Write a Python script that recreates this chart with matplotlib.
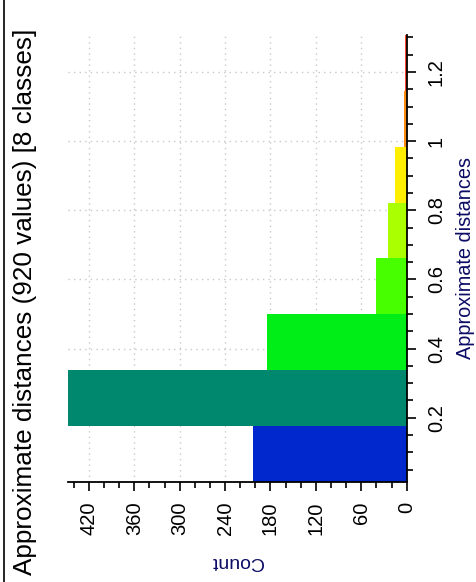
import matplotlib
matplotlib.use("Agg")
import matplotlib.pyplot as plt
from matplotlib.ticker import MultipleLocator
from matplotlib.lines import Line2D

plt.rcParams['font.family'] = ['Liberation Sans', 'DejaVu Sans']

# Data
bin_edges = [0.015, 0.1765, 0.338, 0.4995, 0.661, 0.8225, 0.984, 1.1455, 1.307]
counts = [203, 447, 184, 41, 25, 15, 3, 2]
bar_colors = ['#0028cc', '#00886f', '#00ee18', '#48ff00', '#aaff00', '#ffee00', '#ff8c10', '#ff4a30']
title = "Approximate distances (920 values) [8 classes]"
count_ticks = [0, 60, 120, 180, 240, 300, 360, 420]
dist_ticks = [0.2, 0.4, 0.6, 0.8, 1.0, 1.2]
dist_tick_labels = ['0.2', '0.4', '0.6', '0.8', '1', '1.2']

W, H = 476, 582
fig = plt.figure(figsize=(W / 100, H / 100), dpi=100)
ax = fig.add_axes([68 / W, 1 - 481.7 / H, 338.7 / W, (481.7 - 35) / H])

lefts = bin_edges[:-1]
heights = [b - a for a, b in zip(bin_edges[:-1], bin_edges[1:])]
ax.barh(lefts, counts, height=heights, align='edge', color=bar_colors,
        linewidth=0, zorder=2)

ax.set_xlim(447.5, 0)
ax.set_ylim(bin_edges[0], bin_edges[-1])

ax.xaxis.set_minor_locator(MultipleLocator(20))
ax.set_xticks(count_ticks)
ax.set_xticklabels([str(c) for c in count_ticks], rotation=90)
ax.yaxis.tick_right()
ax.set_yticks(dist_ticks)
ax.set_yticklabels(dist_tick_labels, rotation=90, va='center')
ax.yaxis.set_minor_locator(MultipleLocator(0.05))

ax.grid(True, which='major', linestyle=(0, (1, 3)), color='#c8c8c8',
        linewidth=1.0, zorder=0)
ax.set_axisbelow(True)

for s in ['left', 'top']:
    ax.spines[s].set_visible(False)
for s in ['right', 'bottom']:
    ax.spines[s].set_linewidth(1.3)
    ax.spines[s].set_color('black')

ax.tick_params(which='major', direction='out', length=6.5, width=1.2,
               labelsize=14.5, pad=8, colors='black')
ax.tick_params(which='minor', direction='out', length=4, width=1.2)
ax.tick_params(axis='y', which='both', left=False, right=True)

ax.set_xlabel('Count', rotation=180, fontsize=14, color='#0c0c66',
              va='center', ha='center')
ax.xaxis.set_label_coords(0.5, -0.178)
ax.yaxis.set_label_position('right')
ax.set_ylabel('Approximate distances', rotation=90, fontsize=14.3,
              color='#0c0c66', va='center', ha='center')
ax.yaxis.set_label_coords((465 - 68) / 338.7, 0.5)

fig.text(25 / W, 1 - 302 / H, title, rotation=90, fontsize=18.8,
         ha='center', va='center', color='black')

fig.add_artist(Line2D([3.5 / W, 3.5 / W], [0, 1], transform=fig.transFigure,
                      color='black', linewidth=1.2))

fig.savefig('out.png', dpi=100)
